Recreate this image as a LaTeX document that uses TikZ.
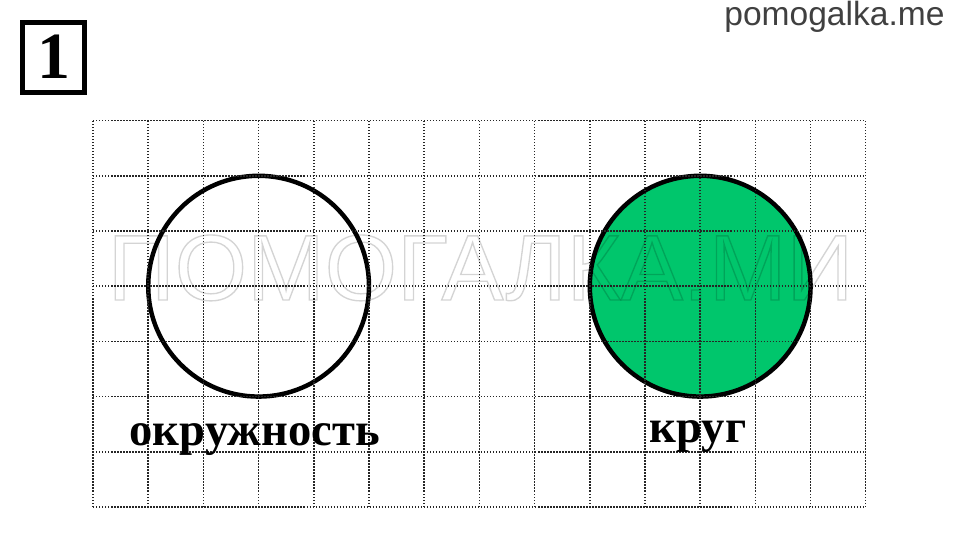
\documentclass[tikz,border=0pt]{standalone}
\usepackage{fontspec}
\setmainfont{Liberation Serif}
\newfontfamily\sitefont{Liberation Sans}
\definecolor{krug}{RGB}{0,198,108}
\newcommand{\cell}{1}
\newcommand{\rad}{2}
\newcommand{\outl}[1]{\special{pdf:code 0.7 w 1 Tr}#1\special{pdf:code 0 Tr}}
\newcommand{\word}[3]{
	\node[word, anchor=base] (#1) at (#2) {#3};
	}
\begin{document}
\begin{tikzpicture}[
      x=\cell cm, y=\cell cm,
      gridline/.style={line width=0.75pt, black!85, dash pattern=on 0.75pt off 0.8pt},
      ring/.style={line width=2.3pt},
      word/.style={font=\fontsize{24}{28}\selectfont\bfseries},
      numbox/.style={draw, line width=2.6pt, minimum width=1.12cm, minimum height=1.27cm, inner sep=0pt, font=\fontsize{34}{36}\selectfont\bfseries}
    ]
    \useasboundingbox (-1.685,-0.471) rectangle (15.707,9.185);
    %the two figures
    \node[ring, draw, circle, minimum size=2*\rad cm, inner sep=0pt] (okr) at (3,4) {};
    \node[ring, draw, fill=krug, circle, minimum size=2*\rad cm, inner sep=0pt] (krg) at (11,4) {};
    %the square paper, seen through the figures
    \draw[gridline] (0,0) grid (14,7);
    %their names
    \word{okrname}{2.93,1.12}{окружность};
    \word{krgname}{10.96,1.16}{круг};
    %watermark
    \begin{scope}[opacity=0.17]
    \node[anchor=base, font=\sitefont\fontsize{48}{50}\selectfont] (mark) at (7.02,3.75) {\outl{ПОМОГАЛКА.МИ}};
    \end{scope}
    %task number and site
    \node[numbox] (num) at (-0.71,8.15) {1};
    \node[anchor=base east, text=black!75, font=\sitefont\fontsize{17.3}{19}\selectfont] (site) at (15.55,8.73) {pomogalka.me};
\end{tikzpicture}
\end{document}
